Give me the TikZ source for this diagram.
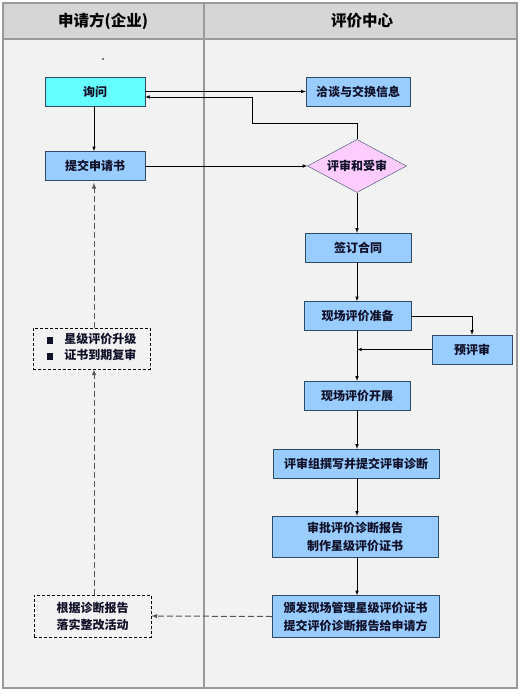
\documentclass[tikz,border=0pt]{standalone}
\usepackage{fontspec}
\setmainfont{Noto Sans CJK SC}
\usetikzlibrary{shapes.geometric,positioning,calc,arrows}
\definecolor{bodygray}{HTML}{F2F2F2}
\definecolor{hdrgray}{HTML}{D6D6D6}
\definecolor{framegray}{HTML}{9A9A9A}
\definecolor{askcyan}{HTML}{66FFFF}
\definecolor{boxblue}{HTML}{99CCFF}
\definecolor{diapink}{HTML}{FFCCFF}
\definecolor{boxline}{HTML}{2E4A66}
\definecolor{textdark}{HTML}{101028}
\definecolor{dashgray}{HTML}{555555}
\tikzset{
  flowbox/.style={draw=boxline,fill=boxblue,text=textdark,font=\bfseries\fontsize{12}{18}\selectfont,minimum height=29pt,inner sep=2pt,align=center},
  notebox/.style={draw=black,dash pattern=on 3pt off 2pt,line width=0.8pt,text=textdark,font=\bfseries\fontsize{12}{17}\selectfont,inner sep=2pt,align=center},
  hdr/.style={text=black,font=\bfseries\fontsize{15.5}{18}\selectfont},
  flow/.style={->,>=latex,black,line width=0.6pt},
  dflow/.style={->,>=latex,dashgray,line width=1pt,dash pattern=on 6pt off 3pt}
}
\begin{document}
\begin{tikzpicture}[x=1pt,y=-1pt]
\useasboundingbox (0,0) rectangle (521,694);
\fill[white] (0,0) rectangle (521,694);
\fill[bodygray] (3,39) rectangle (517,688);
\fill[hdrgray] (3,3) rectangle (517,39);
\draw[framegray,line width=1.2pt] (3,3) rectangle (517,688);
\draw[framegray,line width=1.2pt] (3,39) -- (517,39);
\draw[framegray,line width=1.2pt] (204,3) -- (204,688);
\node (hleft) [hdr] at (103,21) {申请方(企业)};
\node (hright) [hdr] at (362,21) {评价中心};
\node (dot) [circle,fill=black,inner sep=0.6pt] at (103,59) {};
\node (ask) [flowbox,fill=askcyan,minimum width=100pt] at (95,91.5) {询问};
\node (talk) [flowbox,minimum width=104pt] at (358,91.5) {洽谈与交换信息};
\node (apply) [flowbox,minimum width=100pt] at (95,166) {提交申请书};
\node (review) [diamond,draw=boxline,fill=diapink,text=textdark,font=\bfseries\fontsize{12}{14}\selectfont,aspect=1.87,inner sep=0pt,minimum width=99pt,minimum height=53pt] at (357,166) {评审和受审};
\node (contract) [flowbox,minimum width=106pt] at (358,247.5) {签订合同};
\node (prep) [flowbox,minimum width=107pt] at (357.5,316) {现场评价准备};
\node (pre) [flowbox,minimum width=80pt] at (472,349.5) {预评审};
\node (onsite) [flowbox,minimum width=106pt] at (357,395.5) {现场评价开展};
\node (write) [flowbox,minimum width=166pt] at (356,463.5) {评审组撰写并提交评审诊断};
\node (approve) [flowbox,minimum width=166pt,minimum height=41pt] at (355,536.5) {审批评价诊断报告\\制作星级评价证书};
\node (issue) [flowbox,minimum width=167pt,minimum height=42pt] at (355.5,616.5) {颁发现场管理星级评价证书\\提交评价诊断报告给申请方};
\node (act) [notebox,minimum width=117pt,minimum height=42pt] at (92.5,616) {根据诊断报告\\落实整改活动};
\node (renew) [notebox,minimum width=117pt,minimum height=41pt] at (91.5,348.5) {\begin{tabular}{@{}l@{\hspace{11pt}}l@{}}\rule{6.5pt}{6.5pt} & 星级评价升级\\[-1pt] \rule{6.5pt}{6.5pt} & 证书到期复审\end{tabular}};
\coordinate (back) at (252,123);
\coordinate (lane) at (94,0);
\coordinate (spine) at (357,0);
\draw[flow] (ask.east) -- (talk.west);
\draw[flow] (review.north) |- (back) |- ([yshift=-5.5pt]ask.east);
\draw[flow] (lane |- ask.south) -- (lane |- apply.north);
\draw[flow] (apply.east) -- (review.west);
\draw[flow] (review.south) -- (spine |- contract.north);
\draw[flow] (spine |- contract.south) -- (spine |- prep.north);
\draw[flow] (prep.east) -| (pre.north);
\draw[flow] (pre.west) -- (spine |- pre.west);
\draw[flow] (spine |- prep.south) -- (spine |- onsite.north);
\draw[flow] (spine |- onsite.south) -- (spine |- write.north);
\draw[flow] (spine |- write.south) -- (spine |- approve.north);
\draw[flow] (spine |- approve.south) -- (spine |- issue.north);
\draw[dflow] (issue.west) -- (act.east);
\draw[dflow] (lane |- act.north) -- (lane |- renew.south);
\draw[dflow] (lane |- renew.north) -- ([yshift=-2pt]lane |- apply.south);
\end{tikzpicture}
\end{document}
